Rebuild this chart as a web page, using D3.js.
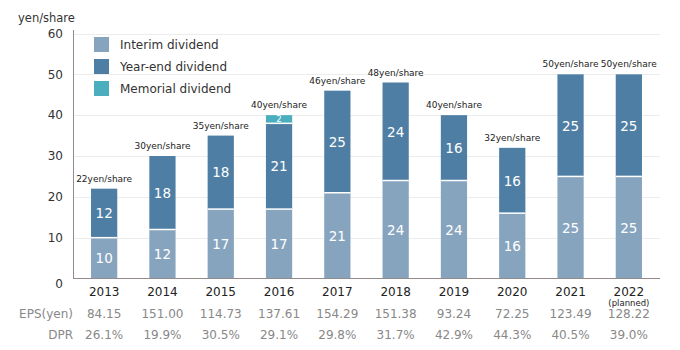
<!DOCTYPE html>
<html>
<head>
<meta charset="utf-8">
<script src="https://cdn.jsdelivr.net/npm/d3@7"></script>
<style>
  body { margin: 0; background: #fff; }
  text { font-family: "DejaVu Sans", Verdana, sans-serif; }
</style>
</head>
<body>
<div id="chart"></div>
<script>
// chart data
const years = ["2013", "2014", "2015", "2016", "2017", "2018", "2019", "2020", "2021", "2022"];
const interim = [10, 12, 17, 17, 21, 24, 24, 16, 25, 25];
const yearEnd = [12, 18, 18, 21, 25, 24, 16, 16, 25, 25];
const memorial = [0, 0, 0, 2, 0, 0, 0, 0, 0, 0];
const eps = ["84.15", "151.00", "114.73", "137.61", "154.29", "151.38", "93.24", "72.25", "123.49", "128.22"];
const dpr = ["26.1%", "19.9%", "30.5%", "29.1%", "29.8%", "31.7%", "42.9%", "44.3%", "40.5%", "39.0%"];
const yTicks = [0, 10, 20, 30, 40, 50, 60];
const seriesNames = ["Interim dividend", "Year-end dividend", "Memorial dividend"];
const colors = ["#87a4bf", "#4f7ea4", "#4aaebf"];

const width = 680, height = 350;

let svg = d3.select('#chart')
    .append('svg')
    .attr('width', width)
    .attr('height', height);

// scales
let xScale = d3.scaleBand()
    .domain(years)
    .range([75, 658])
    .paddingInner(0.55)
    .paddingOuter(0.275);

let yScale = d3.scaleLinear()
    .domain([0, 60])
    .range([278.5, 33.5]);

// gridlines
svg.append('g')
    .selectAll('line')
    .data(yTicks.filter(d => d > 0))
    .enter()
    .append('line')
    .attr('x1', 73)
    .attr('x2', 660)
    .attr('y1', d => Math.round(yScale(d)) + 0.5)
    .attr('y2', d => Math.round(yScale(d)) + 0.5)
    .attr('stroke', '#ececec')
    .attr('stroke-width', 1);

// stacked data
let rows = years.map((y, i) => ({ year: y, interim: interim[i], yearEnd: yearEnd[i], memorial: memorial[i] }));
let stacked = d3.stack().keys(['interim', 'yearEnd', 'memorial'])(rows);

stacked.forEach((layer, k) => {
    let segs = layer.filter(d => d[1] > d[0]);
    let g = svg.append('g');
    g.selectAll('rect')
        .data(segs)
        .enter()
        .append('rect')
        .attr('x', d => xScale(d.data.year))
        .attr('width', xScale.bandwidth())
        .attr('y', d => yScale(d[1]))
        .attr('height', d => yScale(d[0]) - yScale(d[1]))
        .attr('fill', colors[k]);
    // white separator between segments
    if (k > 0) {
        g.selectAll('line')
            .data(segs)
            .enter()
            .append('line')
            .attr('x1', d => xScale(d.data.year))
            .attr('x2', d => xScale(d.data.year) + xScale.bandwidth())
            .attr('y1', d => yScale(d[0]))
            .attr('y2', d => yScale(d[0]))
            .attr('stroke', '#fff')
            .attr('stroke-width', 1.5);
    }
    // values inside segments
    g.selectAll('text')
        .data(segs)
        .enter()
        .append('text')
        .attr('x', d => xScale(d.data.year) + xScale.bandwidth() / 2)
        .attr('y', d => (yScale(d[0]) + yScale(d[1])) / 2)
        .attr('dy', '0.38em')
        .attr('text-anchor', 'middle')
        .attr('fill', '#fff')
        .style('font-size', k === 2 ? '8.5px' : '13.5px')
        .text(d => d[1] - d[0]);
});

// totals above bars
svg.append('g')
    .selectAll('text')
    .data(rows)
    .enter()
    .append('text')
    .attr('x', d => xScale(d.year) + xScale.bandwidth() / 2)
    .attr('y', d => yScale(d.interim + d.yearEnd + d.memorial) - 7)
    .attr('text-anchor', 'middle')
    .attr('fill', '#222')
    .style('font-size', '9px')
    .text(d => `${d.interim + d.yearEnd + d.memorial}yen/share`);

// axes
svg.append('line')
    .attr('x1', 73.5).attr('x2', 73.5)
    .attr('y1', 30).attr('y2', 278.5)
    .attr('stroke', '#948a8a');
svg.append('line')
    .attr('x1', 73).attr('x2', 660)
    .attr('y1', 278.5).attr('y2', 278.5)
    .attr('stroke', '#948a8a');

// y tick labels
svg.append('g')
    .selectAll('text')
    .data(yTicks)
    .enter()
    .append('text')
    .attr('x', 63)
    .attr('y', d => yScale(d) + (d === 0 ? 5 : 0))
    .attr('dy', '0.36em')
    .attr('text-anchor', 'end')
    .attr('fill', '#333')
    .style('font-size', '12px')
    .text(d => d);

svg.append('text')
    .attr('x', 18)
    .attr('y', 22)
    .attr('fill', '#333')
    .style('font-size', '11.5px')
    .text('yen/share');

// x labels
let xLabels = svg.append('g');
xLabels.selectAll('text.year')
    .data(years)
    .enter()
    .append('text')
    .attr('class', 'year')
    .attr('x', d => xScale(d) + xScale.bandwidth() / 2)
    .attr('y', 296)
    .attr('text-anchor', 'middle')
    .attr('fill', '#222')
    .style('font-size', '12px')
    .text(d => d);

xLabels.append('text')
    .attr('x', xScale('2022') + xScale.bandwidth() / 2)
    .attr('y', 305.5)
    .attr('text-anchor', 'middle')
    .attr('fill', '#222')
    .style('font-size', '8.5px')
    .text('(planned)');

xLabels.selectAll('text.eps')
    .data(eps)
    .enter()
    .append('text')
    .attr('class', 'eps')
    .attr('x', (d, i) => xScale(years[i]) + xScale.bandwidth() / 2)
    .attr('y', 318)
    .attr('text-anchor', 'middle')
    .attr('fill', '#888')
    .style('font-size', '12px')
    .text(d => d);

xLabels.selectAll('text.dpr')
    .data(dpr)
    .enter()
    .append('text')
    .attr('class', 'dpr')
    .attr('x', (d, i) => xScale(years[i]) + xScale.bandwidth() / 2)
    .attr('y', 339)
    .attr('text-anchor', 'middle')
    .attr('fill', '#888')
    .style('font-size', '12px')
    .text(d => d);

xLabels.append('text')
    .attr('x', 73).attr('y', 318)
    .attr('text-anchor', 'end')
    .attr('fill', '#888')
    .style('font-size', '12px')
    .text('EPS(yen)');
xLabels.append('text')
    .attr('x', 73).attr('y', 339)
    .attr('text-anchor', 'end')
    .attr('fill', '#888')
    .style('font-size', '12px')
    .text('DPR');

// legend
let legend = svg.selectAll('.lineLegend')
    .data(seriesNames)
    .enter()
    .append('g')
    .attr('class', 'lineLegend')
    .attr('transform', (d, i) => `translate(94, ${37 + i * 22})`);
legend.append('rect')
    .attr('width', 15)
    .attr('height', 15)
    .attr('fill', (d, i) => colors[i]);
legend.append('text')
    .attr('x', 26)
    .attr('y', 7.5)
    .attr('dy', '0.36em')
    .attr('fill', '#333')
    .style('font-size', '12px')
    .text(d => d);
</script>
</body>
</html>
